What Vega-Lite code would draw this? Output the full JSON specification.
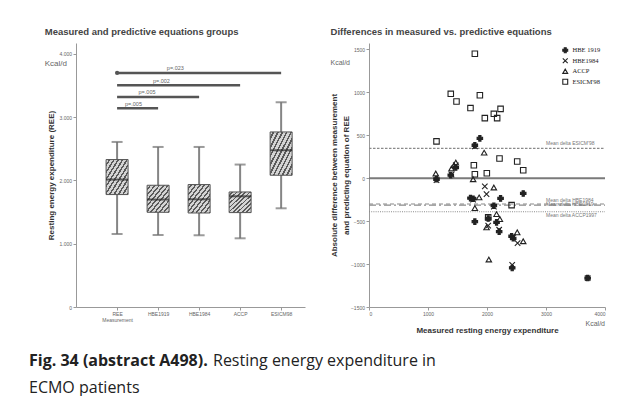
{
  "$schema": "https://vega.github.io/schema/vega-lite/v6.json",
  "padding": {"left": 13, "top": 26, "right": 0, "bottom": 0},
  "background": "white",
  "config": {
    "view": {"stroke": null},
    "font": "Liberation Sans",
    "axis": {"domainColor": "#999", "tickColor": "#999", "labelColor": "#666", "labelFontSize": 5, "tickSize": 3, "grid": false, "titleColor": "#333", "titleFontWeight": "bold", "titleFontSize": 8, "labelPadding": 1.5},
    "title": {"font": "Liberation Sans", "fontSize": 9.5, "fontWeight": "bold", "color": "#444", "anchor": "start"}
  },
  "resolve": {"scale": {"shape": "independent", "fill": "independent", "stroke": "independent", "strokeDash": "independent"}},
  "datasets": {
    "boxes": [
      {"g": "REE", "pos": 1, "min": 1153, "q1": 1776, "med": 2013, "q3": 2329, "max": 2607},
      {"g": "HBE1919", "pos": 2, "min": 1137, "q1": 1496, "med": 1697, "q3": 1923, "max": 2528},
      {"g": "HBE1984", "pos": 3, "min": 1133, "q1": 1485, "med": 1701, "q3": 1934, "max": 2528},
      {"g": "ACCP", "pos": 4, "min": 1085, "q1": 1491, "med": 1749, "q3": 1817, "max": 2250},
      {"g": "ESICM98", "pos": 5, "min": 1559, "q1": 2081, "med": 2476, "q3": 2765, "max": 3234}
    ],
    "sig": [
      {"label": "p=.023", "from": 1, "to": 5, "y": 3697, "lx": 2.42},
      {"label": "p=.002", "from": 1, "to": 4, "y": 3502, "lx": 2.08},
      {"label": "p=.005", "from": 1, "to": 3, "y": 3318, "lx": 1.73},
      {"label": "p=.005", "from": 1, "to": 2, "y": 3139, "lx": 1.40}
    ],
    "means": [
      {"name": "ESICM'98", "lab": "Mean delta ESICM'98", "mean": 348},
      {"name": "HBE1984", "lab": "Mean delta HBE1984", "mean": -313},
      {"name": "HBE1919", "lab": "Mean delta HBE1919", "mean": -300},
      {"name": "ACCP1997", "lab": "Mean delta ACCP1997", "mean": -390}
    ],
    "pts": [
      {"s": "HBE 1919", "x": 1144, "d": -12}, {"s": "HBE 1919", "x": 1386, "d": 35}, {"s": "HBE 1919", "x": 1471, "d": 124},
      {"s": "HBE 1919", "x": 1720, "d": -232}, {"s": "HBE 1919", "x": 1794, "d": 383}, {"s": "HBE 1919", "x": 1879, "d": 464},
      {"s": "HBE 1919", "x": 1794, "d": -506}, {"s": "HBE 1919", "x": 2116, "d": -320}, {"s": "HBE 1919", "x": 2162, "d": -514},
      {"s": "HBE 1919", "x": 2206, "d": -622}, {"s": "HBE 1919", "x": 2230, "d": -235}, {"s": "HBE 1919", "x": 2417, "d": -676},
      {"s": "HBE 1919", "x": 2614, "d": -177}, {"s": "HBE 1919", "x": 3706, "d": -1163}, {"s": "HBE 1919", "x": 1765, "d": -240},
      {"s": "HBE 1919", "x": 2427, "d": -1045}, {"s": "HBE 1919", "x": 2444, "d": -700}, {"s": "HBE 1919", "x": 2020, "d": -470},
      {"s": "HBE1984", "x": 1144, "d": -22}, {"s": "HBE1984", "x": 1398, "d": 42}, {"s": "HBE1984", "x": 1471, "d": 150},
      {"s": "HBE1984", "x": 1765, "d": -250}, {"s": "HBE1984", "x": 1794, "d": 370}, {"s": "HBE1984", "x": 1963, "d": -96},
      {"s": "HBE1984", "x": 1992, "d": -186}, {"s": "HBE1984", "x": 2020, "d": -552}, {"s": "HBE1984", "x": 2518, "d": -757},
      {"s": "HBE1984", "x": 2427, "d": -1009}, {"s": "HBE1984", "x": 2444, "d": -690}, {"s": "HBE1984", "x": 2116, "d": -330},
      {"s": "HBE1984", "x": 2206, "d": -600}, {"s": "HBE1984", "x": 3706, "d": -1163},
      {"s": "ACCP", "x": 1132, "d": 55}, {"s": "ACCP", "x": 1398, "d": 113}, {"s": "ACCP", "x": 1471, "d": 182},
      {"s": "ACCP", "x": 1440, "d": 150}, {"s": "ACCP", "x": 1765, "d": -12}, {"s": "ACCP", "x": 1952, "d": 298},
      {"s": "ACCP", "x": 2116, "d": -108}, {"s": "ACCP", "x": 1867, "d": -224}, {"s": "ACCP", "x": 1794, "d": -348},
      {"s": "ACCP", "x": 2162, "d": -418}, {"s": "ACCP", "x": 2218, "d": -476}, {"s": "ACCP", "x": 1992, "d": -572},
      {"s": "ACCP", "x": 2512, "d": -630}, {"s": "ACCP", "x": 2614, "d": -734}, {"s": "ACCP", "x": 2031, "d": -947},
      {"s": "ESICM'98", "x": 1794, "d": 1450}, {"s": "ESICM'98", "x": 1386, "d": 983}, {"s": "ESICM'98", "x": 1879, "d": 967},
      {"s": "ESICM'98", "x": 1483, "d": 893}, {"s": "ESICM'98", "x": 1720, "d": 817}, {"s": "ESICM'98", "x": 2230, "d": 808},
      {"s": "ESICM'98", "x": 2116, "d": 750}, {"s": "ESICM'98", "x": 1963, "d": 700}, {"s": "ESICM'98", "x": 2172, "d": 700},
      {"s": "ESICM'98", "x": 1144, "d": 429}, {"s": "ESICM'98", "x": 2212, "d": 229}, {"s": "ESICM'98", "x": 2512, "d": 194},
      {"s": "ESICM'98", "x": 2614, "d": 93}, {"s": "ESICM'98", "x": 1777, "d": 151}, {"s": "ESICM'98", "x": 1997, "d": 58},
      {"s": "ESICM'98", "x": 1794, "d": 46}, {"s": "ESICM'98", "x": 2417, "d": -313}, {"s": "ESICM'98", "x": 2020, "d": -456}
    ]
  },
  "vconcat": [
    {
      "resolve": {"scale": {"shape": "independent", "fill": "independent", "stroke": "independent", "strokeDash": "independent"}},
      "hconcat": [
        {"width": 6, "height": 1, "data": {"values": [{}]}, "mark": {"type": "text", "text": ""}, "encoding": {}},
        {
          "width": 229, "height": 264,
          "title": {"text": "Measured and predictive equations groups", "offset": 7},
          "layer": [
            {
              "data": {"name": "boxes"},
              "mark": {"type": "rule", "color": "#858585", "strokeWidth": 2},
              "encoding": {
                "x": {"field": "pos", "type": "quantitative", "scale": {"domain": [0.12, 5.46], "nice": false, "zero": false}, "title": null,
                  "axis": {"values": [1, 2, 3, 4, 5], "labelExpr": "datum.value == 1 ? ['REE','Measurement'] : datum.value == 2 ? 'HBE1919' : datum.value == 3 ? 'HBE1984' : datum.value == 4 ? 'ACCP' : 'ESICM98'", "labelLineHeight": 6}},
                "y": {"field": "min", "type": "quantitative", "scale": {"domain": [0, 4170], "nice": false}, "title": "Resting energy expenditure (REE)",
                  "axis": {"values": [0, 1000, 2000, 3000, 4000], "labelExpr": "datum.value == 0 ? '0' : replace(format(datum.value, ','), ',', '.')", "titlePadding": 3}},
                "y2": {"field": "max"}
              }
            },
            {
              "data": {"name": "boxes"},
              "mark": {"type": "tick", "orient": "horizontal", "color": "#707070", "thickness": 2, "size": 11},
              "encoding": {
                "x": {"field": "pos", "type": "quantitative", "title": null},
                "y": {"field": "min", "type": "quantitative", "title": "Resting energy expenditure (REE)"}
              }
            },
            {
              "data": {"name": "boxes"},
              "mark": {"type": "tick", "orient": "horizontal", "color": "#707070", "thickness": 2, "size": 11},
              "encoding": {
                "x": {"field": "pos", "type": "quantitative", "title": null},
                "y": {"field": "max", "type": "quantitative", "title": "Resting energy expenditure (REE)"}
              }
            },
            {
              "data": {"name": "boxes"},
              "mark": {"type": "bar", "width": 22, "stroke": "#555", "strokeWidth": 1,
                "fill": {"gradient": "linear", "x1": 0, "y1": 0, "x2": 1, "y2": 1, "stops": [
                  {"offset": 0, "color": "#d4d4d4"}, {"offset": 0.06, "color": "#d4d4d4"}, {"offset": 0.06, "color": "#5a5a5a"}, {"offset": 0.1, "color": "#5a5a5a"},
                  {"offset": 0.1, "color": "#d4d4d4"}, {"offset": 0.16, "color": "#d4d4d4"}, {"offset": 0.16, "color": "#5a5a5a"}, {"offset": 0.2, "color": "#5a5a5a"},
                  {"offset": 0.2, "color": "#d4d4d4"}, {"offset": 0.26, "color": "#d4d4d4"}, {"offset": 0.26, "color": "#5a5a5a"}, {"offset": 0.3, "color": "#5a5a5a"},
                  {"offset": 0.3, "color": "#d4d4d4"}, {"offset": 0.36, "color": "#d4d4d4"}, {"offset": 0.36, "color": "#5a5a5a"}, {"offset": 0.4, "color": "#5a5a5a"},
                  {"offset": 0.4, "color": "#d4d4d4"}, {"offset": 0.46, "color": "#d4d4d4"}, {"offset": 0.46, "color": "#5a5a5a"}, {"offset": 0.5, "color": "#5a5a5a"},
                  {"offset": 0.5, "color": "#d4d4d4"}, {"offset": 0.56, "color": "#d4d4d4"}, {"offset": 0.56, "color": "#5a5a5a"}, {"offset": 0.6, "color": "#5a5a5a"},
                  {"offset": 0.6, "color": "#d4d4d4"}, {"offset": 0.66, "color": "#d4d4d4"}, {"offset": 0.66, "color": "#5a5a5a"}, {"offset": 0.7, "color": "#5a5a5a"},
                  {"offset": 0.7, "color": "#d4d4d4"}, {"offset": 0.76, "color": "#d4d4d4"}, {"offset": 0.76, "color": "#5a5a5a"}, {"offset": 0.8, "color": "#5a5a5a"},
                  {"offset": 0.8, "color": "#d4d4d4"}, {"offset": 0.86, "color": "#d4d4d4"}, {"offset": 0.86, "color": "#5a5a5a"}, {"offset": 0.9, "color": "#5a5a5a"},
                  {"offset": 0.9, "color": "#d4d4d4"}, {"offset": 0.96, "color": "#d4d4d4"}, {"offset": 0.96, "color": "#5a5a5a"}, {"offset": 1, "color": "#5a5a5a"}
                ]}},
              "encoding": {
                "x": {"field": "pos", "type": "quantitative", "title": null},
                "y": {"field": "q1", "type": "quantitative", "title": "Resting energy expenditure (REE)"},
                "y2": {"field": "q3"}
              }
            },
            {
              "data": {"name": "boxes"},
              "mark": {"type": "tick", "orient": "horizontal", "color": "#2a2a2a", "thickness": 2, "size": 22},
              "encoding": {
                "x": {"field": "pos", "type": "quantitative", "title": null},
                "y": {"field": "med", "type": "quantitative", "title": "Resting energy expenditure (REE)"}
              }
            },
            {
              "data": {"name": "sig"},
              "mark": {"type": "rule", "color": "#555", "strokeWidth": 2.5},
              "encoding": {
                "x": {"field": "from", "type": "quantitative", "title": null},
                "x2": {"field": "to"},
                "y": {"field": "y", "type": "quantitative", "title": "Resting energy expenditure (REE)"}
              }
            },
            {
              "data": {"name": "sig"},
              "transform": [{"filter": "datum.to == 5"}],
              "mark": {"type": "point", "filled": true, "color": "#555", "size": 18, "opacity": 1},
              "encoding": {
                "x": {"field": "from", "type": "quantitative", "title": null},
                "y": {"field": "y", "type": "quantitative", "title": "Resting energy expenditure (REE)"}
              }
            },
            {
              "data": {"name": "sig"},
              "mark": {"type": "text", "fontSize": 5.5, "color": "#666", "baseline": "bottom", "dy": -1.5},
              "encoding": {
                "x": {"field": "lx", "type": "quantitative", "title": null},
                "y": {"field": "y", "type": "quantitative", "title": "Resting energy expenditure (REE)"},
                "text": {"field": "label"}
              }
            },
            {
              "data": {"values": [{"t": "Kcal/d"}]},
              "mark": {"type": "text", "fontSize": 8, "color": "#666", "align": "right", "baseline": "middle", "dx": -14},
              "encoding": {
                "x": {"datum": 0.12, "type": "quantitative"},
                "y": {"datum": 3834, "type": "quantitative"},
                "text": {"field": "t"}
              }
            }
          ]
        },
        {
          "width": 236, "height": 264,
          "title": {"text": "Differences in measured vs. predictive equations", "offset": 7},
          "layer": [
            {
              "data": {"values": [{"z": 0}]},
              "mark": {"type": "rule", "color": "#7a7a7a", "strokeWidth": 2},
              "encoding": {
                "x": {"datum": 0, "type": "quantitative", "scale": {"domain": [0, 4000], "nice": false},
                  "axis": {"values": [0, 500, 1000, 1500, 2000, 2500, 3000, 3500, 4000], "format": "d", "title": "Measured resting energy expenditure", "titlePadding": 10}},
                "x2": {"datum": 4000},
                "y": {"field": "z", "type": "quantitative", "scale": {"domain": [-1500, 1575], "nice": false},
                  "axis": {"values": [-1500, -1000, -500, 0, 500, 1000, 1500], "format": "d", "title": ["Absolute difference between measurement", "and predicting equation of REE"], "titleLineHeight": 11.5, "titlePadding": 0}}
              }
            },
            {
              "data": {"name": "means"},
              "mark": {"type": "rule", "color": "#8a8a8a", "strokeWidth": 1.1},
              "encoding": {
                "x": {"datum": 0, "type": "quantitative"},
                "x2": {"datum": 4000},
                "y": {"field": "mean", "type": "quantitative"},
                "strokeDash": {"field": "name", "type": "nominal", "legend": null,
                  "scale": {"domain": ["ESICM'98", "HBE1984", "HBE1919", "ACCP1997"], "range": [[2.5, 1.5], [7, 3, 2, 3], [4, 3], [1, 1.2]]}}
              }
            },
            {
              "data": {"name": "pts"},
              "mark": {"type": "point", "strokeWidth": 1.1, "size": 30, "opacity": 1},
              "encoding": {
                "x": {"field": "x", "type": "quantitative"},
                "y": {"field": "d", "type": "quantitative"},
                "shape": {"field": "s", "type": "nominal",
                  "scale": {"domain": ["HBE 1919", "HBE1984", "ACCP", "ESICM'98"], "range": ["cross", "M-1,-1L1,1M-1,1L1,-1", "triangle-up", "square"]},
                  "legend": {"title": null, "orient": "top-right", "offset": 4, "labelFont": "Liberation Serif", "labelFontSize": 6.5, "labelColor": "#222", "symbolSize": 24, "rowPadding": 0.5, "symbolStrokeWidth": 1.1, "padding": 0}},
                "fill": {"field": "s", "type": "nominal",
                  "scale": {"domain": ["HBE 1919", "HBE1984", "ACCP", "ESICM'98"], "range": ["#222", "transparent", "transparent", "transparent"]},
                  "legend": {"title": null, "orient": "top-right", "offset": 4, "labelFont": "Liberation Serif", "labelFontSize": 6.5, "labelColor": "#222", "symbolSize": 24, "rowPadding": 0.5, "symbolStrokeWidth": 1.1, "padding": 0}},
                "stroke": {"field": "s", "type": "nominal",
                  "scale": {"domain": ["HBE 1919", "HBE1984", "ACCP", "ESICM'98"], "range": ["#222", "#222", "#222", "#222"]},
                  "legend": {"title": null, "orient": "top-right", "offset": 4, "labelFont": "Liberation Serif", "labelFontSize": 6.5, "labelColor": "#222", "symbolSize": 24, "rowPadding": 0.5, "symbolStrokeWidth": 1.1, "padding": 0}}
              }
            },
            {
              "data": {"name": "means"},
              "transform": [{"filter": "datum.name == \"ESICM'98\" || datum.name == 'HBE1984'"}],
              "mark": {"type": "text", "fontSize": 5, "color": "#777", "align": "left", "baseline": "bottom", "dy": -2},
              "encoding": {
                "x": {"datum": 3000, "type": "quantitative"},
                "y": {"field": "mean", "type": "quantitative"},
                "text": {"field": "lab"}
              }
            },
            {
              "data": {"name": "means"},
              "transform": [{"filter": "datum.name == 'HBE1919'"}],
              "mark": {"type": "text", "fontSize": 5, "color": "#777", "align": "left", "baseline": "middle"},
              "encoding": {
                "x": {"datum": 3000, "type": "quantitative"},
                "y": {"field": "mean", "type": "quantitative"},
                "text": {"field": "lab"}
              }
            },
            {
              "data": {"name": "means"},
              "transform": [{"filter": "datum.name == 'ACCP1997'"}],
              "mark": {"type": "text", "fontSize": 5, "color": "#777", "align": "left", "baseline": "top", "dy": 1.5},
              "encoding": {
                "x": {"datum": 3000, "type": "quantitative"},
                "y": {"field": "mean", "type": "quantitative"},
                "text": {"field": "lab"}
              }
            },
            {
              "data": {"values": [{"t": "Kcal/d"}]},
              "mark": {"type": "text", "fontSize": 7, "color": "#666", "align": "right", "baseline": "middle", "dx": -19},
              "encoding": {
                "x": {"datum": 0, "type": "quantitative"},
                "y": {"datum": 1340, "type": "quantitative"},
                "text": {"field": "t"}
              }
            },
            {
              "data": {"values": [{"t": "Kcal/d"}]},
              "mark": {"type": "text", "fontSize": 7, "color": "#666", "align": "right", "baseline": "top", "dy": 13},
              "encoding": {
                "x": {"datum": 4000, "type": "quantitative"},
                "y": {"datum": -1500, "type": "quantitative"},
                "text": {"field": "t"}
              }
            }
          ]
        }
      ],
      "spacing": 25
    },
    {
      "hconcat": [
        {"width": 11, "height": 1, "data": {"values": [{}]}, "mark": {"type": "text", "text": ""}, "encoding": {}},
        {"width": 1, "height": 1, "data": {"values": [{}]}, "mark": {"type": "text", "text": ""}, "encoding": {},
          "title": {"text": "Fig. 34 (abstract A498).", "subtitle": "ECMO patients", "orient": "bottom", "anchor": "start", "offset": 0,
            "font": "Open Sans", "fontSize": 16, "fontWeight": "bold", "color": "#222",
            "subtitleFont": "Open Sans", "subtitleFontSize": 16, "subtitleFontWeight": "normal", "subtitleColor": "#222", "subtitlePadding": 11}},
        {"width": 1, "height": 1, "data": {"values": [{}]}, "mark": {"type": "text", "text": ""}, "encoding": {},
          "title": {"text": "Resting energy expenditure in", "orient": "bottom", "anchor": "start", "offset": 0,
            "font": "Open Sans", "fontSize": 16, "fontWeight": "normal", "color": "#222"}}
      ],
      "spacing": 5
    }
  ],
  "spacing": 6
}
